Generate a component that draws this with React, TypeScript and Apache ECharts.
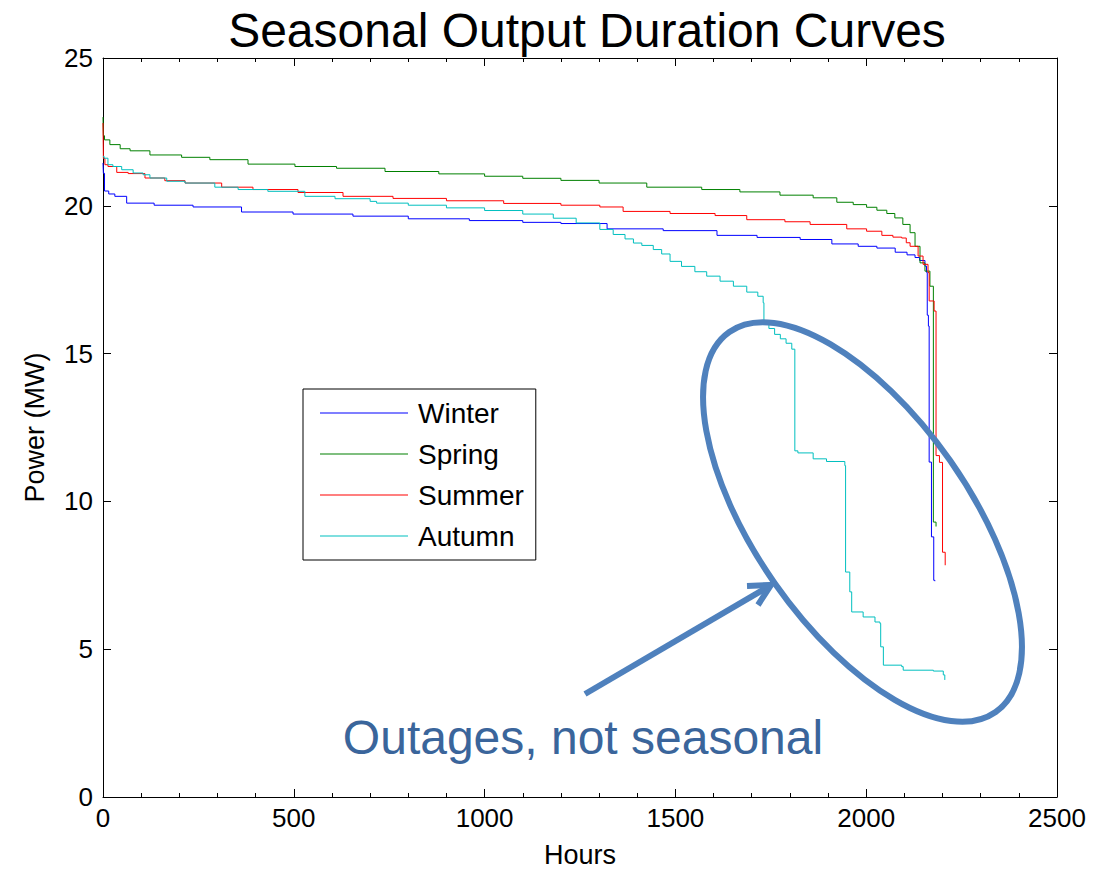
import React, { useEffect, useRef } from "react";
import * as echarts from "echarts";

const FONT = "'Liberation Sans', Arial, Helvetica, sans-serif";

const titleText = "Seasonal Output Duration Curves";
const xName = "Hours";
const yName = "Power (MW)";
const seriesNames = ["Winter", "Spring", "Summer", "Autumn"];
const seriesColors = ["#0000ff", "#008000", "#ff0000", "#00bfbf"];
const annotationText = "Outages, not seasonal";

// [hour, MW] — value holds until the next hour listed
const winter: number[][] = [
  [0, 21.45], [1, 21.1], [4, 20.5], [15, 20.4], [31, 20.32], [62, 20.09], [134, 20.02],
  [236, 19.96], [363, 19.79], [498, 19.72], [655, 19.65], [800, 19.56], [960, 19.5],
  [1100, 19.44], [1200, 19.4], [1321, 19.22], [1468, 19.16], [1609, 19.0], [1714, 18.93],
  [1827, 18.86], [1910, 18.71], [1979, 18.63], [2028, 18.57], [2076, 18.43], [2107, 18.34],
  [2128, 18.25], [2140, 18.15], [2154, 17.96], [2158, 17.75], [2160, 16.3], [2163, 15.93],
  [2165, 11.33], [2171, 8.8], [2177, 7.33], [2180, 7.3],
];

const spring: number[][] = [
  [0, 23.0], [1, 22.37], [4, 22.23], [18, 22.07], [45, 21.93], [71, 21.86], [123, 21.72],
  [206, 21.64], [280, 21.56], [380, 21.41], [503, 21.33], [612, 21.27], [739, 21.16],
  [880, 21.08], [1000, 21.0], [1100, 20.93], [1200, 20.86], [1300, 20.77], [1425, 20.63],
  [1569, 20.55], [1669, 20.47], [1774, 20.36], [1861, 20.27], [1923, 20.12], [1966, 20.04],
  [2001, 19.95], [2028, 19.85], [2054, 19.74], [2075, 19.59], [2096, 19.37], [2115, 19.09],
  [2128, 18.63], [2141, 18.07], [2154, 17.79], [2167, 17.28], [2176, 9.3], [2183, 9.15],
];

const summer: number[][] = [
  [0, 22.8], [1, 21.6], [5, 21.39], [13, 21.33], [36, 21.13], [66, 21.09], [110, 20.94],
  [162, 20.85], [215, 20.77], [311, 20.63], [393, 20.55], [511, 20.45], [629, 20.32],
  [760, 20.25], [900, 20.17], [1050, 20.08], [1200, 20.02], [1302, 19.96], [1363, 19.81],
  [1486, 19.74], [1604, 19.67], [1687, 19.53], [1787, 19.46], [1853, 19.37], [1949, 19.22],
  [2001, 19.14], [2041, 19.0], [2070, 18.94], [2093, 18.91], [2105, 18.75], [2115, 18.63],
  [2136, 18.3], [2149, 18.02], [2162, 17.74], [2165, 16.78], [2178, 16.44], [2183, 11.55],
  [2192, 11.32], [2200, 8.28], [2207, 7.84],
];

const autumn: number[][] = [
  [0, 21.67], [3, 21.61], [13, 21.39], [26, 21.33], [49, 21.22], [79, 21.11], [105, 21.05],
  [123, 20.94], [167, 20.83], [215, 20.77], [293, 20.63], [354, 20.55], [432, 20.49],
  [529, 20.32], [608, 20.24], [700, 20.15], [717, 20.09], [800, 20.02], [900, 19.93],
  [1000, 19.84], [1100, 19.72], [1180, 19.58], [1240, 19.42], [1302, 19.2], [1337, 19.03],
  [1368, 18.88], [1390, 18.74], [1412, 18.66], [1442, 18.52], [1464, 18.37], [1486, 18.12],
  [1516, 17.95], [1551, 17.77], [1582, 17.62], [1617, 17.45], [1652, 17.28], [1687, 17.08],
  [1716, 16.94], [1730, 16.72], [1732, 16.0], [1745, 15.85], [1760, 15.65], [1775, 15.5],
  [1790, 15.35], [1805, 15.15], [1813, 11.71], [1821, 11.64], [1861, 11.44], [1896, 11.35],
  [1944, 11.21], [1946, 7.61], [1957, 6.94], [1962, 6.26], [1992, 6.09], [2023, 5.92],
  [2036, 5.87], [2038, 5.08], [2045, 4.46], [2093, 4.41], [2097, 4.29], [2176, 4.26],
  [2202, 4.13], [2206, 3.96],
];

const seriesData = [winter, spring, summer, autumn];

export default function App() {
  const ref = useRef<HTMLDivElement>(null);

  useEffect(() => {
    if (!ref.current) return;
    const chart = echarts.init(ref.current, undefined, { renderer: "svg" });

    const axisCommon = {
      type: "value" as const,
      axisLine: { show: true, onZero: false, lineStyle: { color: "#000", width: 1 } },
      splitLine: { show: false },
    };
    const plain = (v: number) => String(v);

    chart.setOption({
      animation: false,
      backgroundColor: "#fff",
      title: {
        text: titleText,
        left: 582,
        textAlign: "center",
        top: 1,
        textStyle: { fontFamily: FONT, fontSize: 48, fontWeight: "normal", color: "#000" },
      },
      grid: { left: 103, top: 58, width: 954, height: 741, containLabel: false },
      legend: {
        orient: "vertical",
        left: 303,
        top: 389,
        padding: [10, 12, 10, 17],
        itemGap: 13,
        itemWidth: 88,
        itemHeight: 1,
        icon: "rect",
        backgroundColor: "#fff",
        borderColor: "#000",
        borderWidth: 1,
        borderRadius: 0,
        data: seriesNames,
        textStyle: { fontFamily: FONT, fontSize: 28, color: "#000", padding: [0, 0, 0, 5] },
      },
      xAxis: [
        {
          ...axisCommon,
          position: "bottom",
          min: 0,
          max: 2500,
          interval: 500,
          name: xName,
          nameLocation: "middle",
          nameGap: 44,
          nameTextStyle: { fontFamily: FONT, fontSize: 27, color: "#000" },
          axisTick: { show: true, inside: true, length: 8, lineStyle: { color: "#000" } },
          minorTick: { show: true, splitNumber: 5, length: 4, lineStyle: { color: "#000" } },
          axisLabel: { fontFamily: FONT, fontSize: 26, color: "#000", margin: 8, formatter: plain },
        },
        {
          ...axisCommon,
          position: "top",
          min: 0,
          max: 2500,
          interval: 500,
          axisTick: { show: true, inside: true, length: 8, lineStyle: { color: "#000" } },
          minorTick: { show: true, splitNumber: 5, length: 4, lineStyle: { color: "#000" } },
          axisLabel: { show: false },
        },
      ],
      yAxis: [
        {
          ...axisCommon,
          position: "left",
          min: 0,
          max: 25,
          interval: 5,
          name: yName,
          nameLocation: "middle",
          nameGap: 55,
          nameTextStyle: { fontFamily: FONT, fontSize: 27, color: "#000" },
          axisTick: { show: true, inside: true, length: 8, lineStyle: { color: "#000" } },
          axisLabel: { fontFamily: FONT, fontSize: 26, color: "#000", margin: 10, formatter: plain },
        },
        {
          ...axisCommon,
          position: "right",
          min: 0,
          max: 25,
          interval: 5,
          axisTick: { show: true, inside: true, length: 8, lineStyle: { color: "#000" } },
          axisLabel: { show: false },
        },
      ],
      series: seriesNames.map((name, i) => ({
        name,
        type: "line",
        step: "end",
        xAxisIndex: 0,
        yAxisIndex: 0,
        data: seriesData[i],
        symbol: "none",
        showSymbol: false,
        color: seriesColors[i],
        itemStyle: { color: seriesColors[i] },
        lineStyle: { color: seriesColors[i], width: 1 },
        z: 2,
      })),
      graphic: [
        {
          type: "ellipse",
          x: 862.5,
          y: 522,
          rotation: (-55 * Math.PI) / 180,
          shape: { cx: 0, cy: 0, rx: 232, ry: 107 },
          style: { fill: "none", stroke: "#4f81bd", lineWidth: 6 },
          z: 100,
        },
        {
          type: "line",
          shape: { x1: 585, y1: 694, x2: 768, y2: 587 },
          style: { stroke: "#4f81bd", lineWidth: 6 },
          z: 100,
        },
        {
          type: "polyline",
          shape: { points: [[747, 586], [771, 585], [758, 605]] },
          style: { stroke: "#4f81bd", lineWidth: 6, fill: "none", lineJoin: "miter" },
          z: 100,
        },
        {
          type: "text",
          x: 583,
          y: 737,
          style: {
            text: annotationText,
            font: `48px ${FONT}`,
            fill: "#3a659b",
            textAlign: "center",
            textVerticalAlign: "middle",
          },
          z: 100,
        },
      ],
    });

    return () => chart.dispose();
  }, []);

  return (
    <div
      ref={ref}
      style={{ position: "absolute", left: 0, top: 0, width: 1093, height: 873, background: "#fff" }}
    />
  );
}
